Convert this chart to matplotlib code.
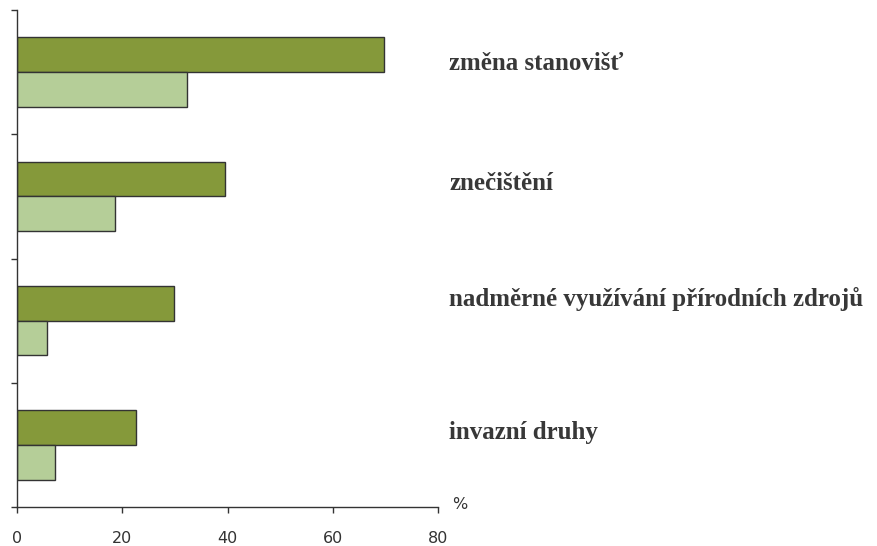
import numpy as np
import matplotlib
matplotlib.use('Agg')
from matplotlib import pyplot as plt

# data
categories = ['změna stanovišť', 'znečištění', 'nadměrné využívání přírodních zdrojů', 'invazní druhy']
dark_vals = [69.8, 39.5, 29.8, 22.6]
light_vals = [32.3, 18.6, 5.7, 7.2]
xticks = [0, 20, 40, 60, 80]

dark_col = '#85993a'
light_col = '#b5ce98'
edge_col = '#333333'

fig = plt.figure(figsize=(8.78, 5.46), dpi=100)
ax = fig.add_axes([0.0194, 0.0714, 0.4795, 0.9103])

pos = np.arange(len(categories)) + 0.5
h = 0.28
ax.barh(pos - h/2, dark_vals, height=h, color=dark_col, edgecolor=edge_col, linewidth=1)
ax.barh(pos + h/2, light_vals, height=h, color=light_col, edgecolor=edge_col, linewidth=1)

ax.set_xlim(0, 80)
ax.set_ylim(len(categories), 0)
ax.set_xticks(xticks)
ax.set_xticklabels([str(v) for v in xticks], fontsize=11.5, color='#333333')
ax.set_yticks(np.arange(len(categories) + 1))
ax.set_yticklabels([])
ax.tick_params(axis='x', length=4, width=1, color='#333333', pad=13)
ax.tick_params(axis='y', length=4, width=1, color='#333333')

for s in ['top', 'right']:
    ax.spines[s].set_visible(False)
for s in ['left', 'bottom']:
    ax.spines[s].set_color('#333333')
    ax.spines[s].set_linewidth(1)

# category labels to the right of the axes (baseline a bit above band centre)
offsets = [-0.02, -0.052, -0.12, -0.044]
for p, off, name in zip(pos, offsets, categories):
    ax.text(82.1, p + off, name, fontsize=18, fontweight='bold', family='Liberation Serif',
            color='#383838', va='baseline', ha='left', clip_on=False)

ax.text(82.7, len(categories) - 0.024, '%', fontsize=11.5, color='#333333', va='center', ha='left', clip_on=False)

fig.savefig('out.png', dpi=100)
